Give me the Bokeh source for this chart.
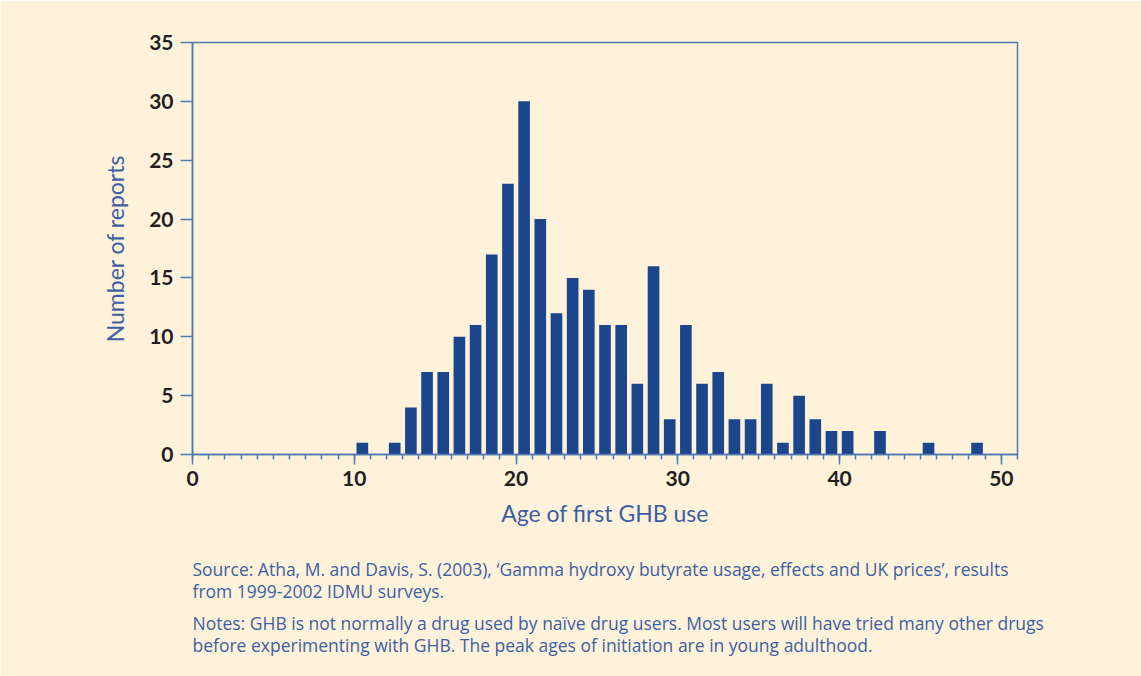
import numpy as np
from bokeh.plotting import figure
from bokeh.models import Title, Range1d, FixedTicker
from bokeh.embed import file_html
from bokeh.resources import INLINE

# Data: number of reports by age of first GHB use (bin [age, age+1))
ages = [10, 11, 12, 13, 14, 15, 16, 17, 18, 19, 20, 21, 22, 23, 24, 25, 26, 27, 28, 29,
        30, 31, 32, 33, 34, 35, 36, 37, 38, 39, 40, 41, 42, 43, 44, 45, 46, 47, 48]
counts = [1, 0, 1, 4, 7, 7, 10, 11, 17, 23, 30, 20, 12, 15, 14, 11, 11, 6, 16, 3,
          11, 6, 7, 3, 3, 6, 1, 5, 3, 2, 2, 0, 2, 0, 0, 1, 0, 0, 1]
x_ticks = [0, 10, 20, 30, 40, 50]
y_ticks = [0, 5, 10, 15, 20, 25, 30, 35]
x_label = "Age of first GHB use"
y_label = "Number of reports"
source_lines = [
    "Source: Atha, M. and Davis, S. (2003), \u2018Gamma hydroxy butyrate usage, effects and UK prices\u2019, results",
    "from 1999-2002 IDMU surveys.",
]
notes_lines = [
    "Notes: GHB is not normally a drug used by na\u00efve drug users. Most users will have tried many other drugs",
    "before experimenting with GHB. The peak ages of initiation are in young adulthood.",
]

BG = "#FEF2DA"
AXC = "#4C7AB2"
BAR = "#1C468B"
TXT = "#3D5FA3"
FONT = "Lato"
NFONT = "Open Sans"

W, H = 1141, 676
p = figure(width=W, height=H, output_backend="svg", toolbar_location=None,
           x_range=Range1d(0, 51), y_range=Range1d(0, 35),
           min_border_left=192, min_border_right=W - 1017, min_border_top=42, min_border_bottom=H - 454)
p.background_fill_color = BG
p.border_fill_color = BG
p.outline_line_color = AXC
p.outline_line_width = 1.5
p.grid.visible = False

x = np.array(ages) + 0.5
p.vbar(x=x, top=counts, width=0.72, color=BAR, line_color=None)

xa = p.xaxis[0]
xa.ticker = FixedTicker(ticks=x_ticks, minor_ticks=list(range(0, 52)))
ya = p.yaxis[0]
ya.ticker = FixedTicker(ticks=y_ticks, minor_ticks=[])

for ax in (xa, ya):
    ax.axis_line_color = AXC
    ax.axis_line_width = 1.5
    ax.major_tick_line_color = AXC
    ax.major_tick_line_width = 1.5
    ax.minor_tick_line_color = AXC
    ax.minor_tick_line_width = 1.5
    ax.major_tick_in = 0
    ax.minor_tick_in = 0
    ax.major_label_text_font = FONT
    ax.major_label_text_font_style = "bold"
    ax.major_label_text_font_size = "21px"
    ax.major_label_text_color = "#231F20"
    ax.axis_label_text_font = FONT
    ax.axis_label_text_font_style = "normal"
    ax.axis_label_text_font_size = "23px"
    ax.axis_label_text_color = TXT

xa.major_tick_out = 10
xa.minor_tick_out = 5
xa.major_label_standoff = 6
xa.axis_label = x_label
xa.axis_label_standoff = 10
ya.major_tick_out = 12
ya.minor_tick_out = 0
ya.major_label_standoff = 7
ya.axis_label = y_label
ya.axis_label_standoff = 17

# footnotes as stacked titles below the x axis (blank titles act as spacers)
def note(txt, size="17.5px", so=-4):
    p.add_layout(Title(text=txt, align="left", text_font=NFONT, text_font_size=size,
                       text_font_style="normal", text_color=TXT, standoff=so), "below")

note(" ", "16.5px", 2)
for t in source_lines:
    note(t)
note(" ", "7px", -1)
for t in notes_lines:
    note(t)

open("out.html", "w").write(file_html(p, INLINE))
